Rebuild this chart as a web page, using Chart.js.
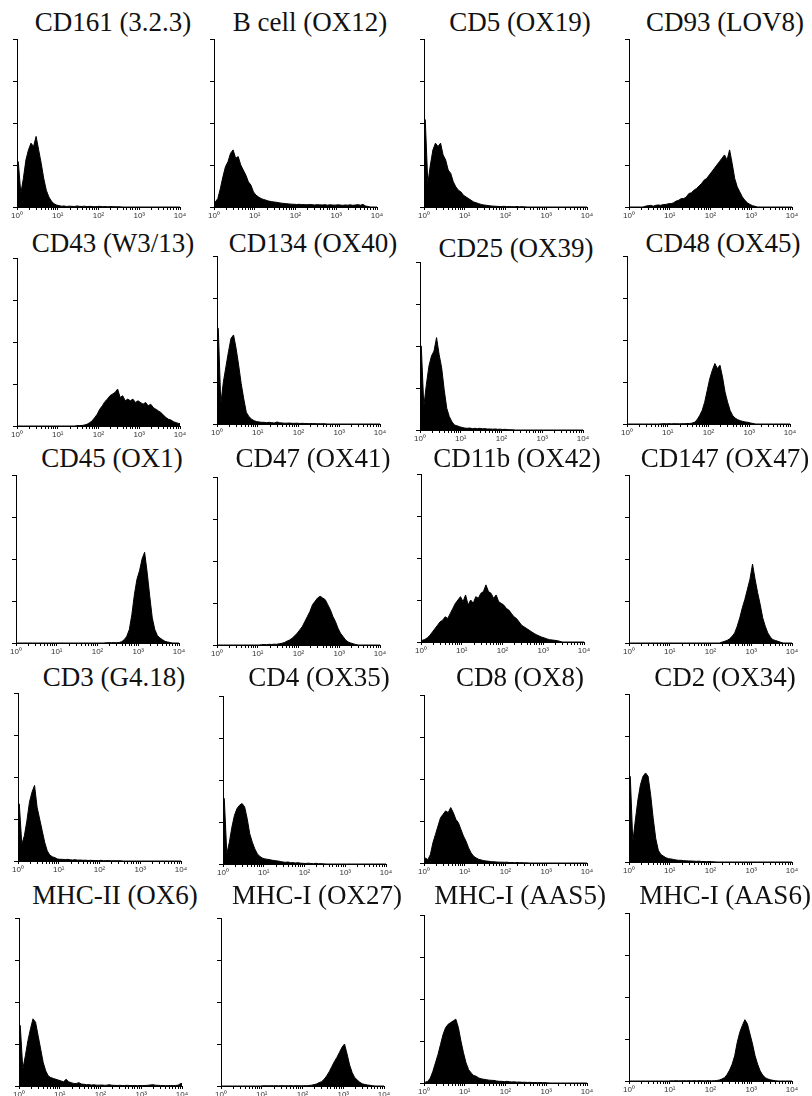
<!DOCTYPE html>
<html>
<head>
<meta charset="utf-8">
<script src="https://cdn.jsdelivr.net/npm/chart.js@4.4.0/dist/chart.umd.min.js"></script>
<style>
  body { margin: 0; background: #fff; width: 812px; height: 1096px; position: relative; overflow: hidden; }
  .title { position: absolute; width: 220px; text-align: center; white-space: nowrap;
           font: 27px "Liberation Serif", "Times New Roman", serif; line-height: 27px; color: #111; }
  canvas { position: absolute; }
</style>
</head>
<body>
<script>
// x axis: 4 decades, 16 channels per decade
const binsPerDecade = 16;
const binCount = 64;
const xTickValues = [1, 10, 100, 1000, 10000];
const xTickLabels = ['10⁰', '10¹', '10²', '10³', '10⁴'];

// event counts per channel, % of the y axis
const cd161 = [27,8,17,28,34,38,36,42,34,26,17,10,6,3.5,2,1.2,0.8,0.5,0.6,0.3,0.5,0.4,0.3,0.6,0.4,0.3,0.5,0.2,0.4,0.3,0.2,0.3,0.4,0.2,0.3,0.2,0.2,0.3,0.1,0.2,0.1];
const bCell = [3,5,11,18,24,27,32,34,29,30,25,22,19,15,13,9,7,6,5,4.5,4,3.5,3.2,3,2.8,2.5,2.3,2.1,2,1.8,1.7,1.6,1.5,1.6,1.4,1.5,1.3,1.5,1.4,1.2,1.4,1.3,1.2,1.4,1.1,1.3,1.2,1.1,1.3,1.2,1,1.2,1.1,1.3,1,1.2,1.4,1.1,1.5,0.6,0.3];
const cd5 = [52,14,25,34,38,36,38,31,28,22,20,15,12,10,9,7,6,5,4,3,2.5,2,1.5,1.2,1,0.8,0.6,0.5,0.4,0.3,0.3,0.4,0.2,0.3,0.2,0.2,0.3,0.1,0.2,0.1];
const cd93 = [0,0,0,0,0,0,0.5,0.8,1,0.5,1,1.2,1,1.5,1.5,2,2,2.5,3.5,4,5,5,6,8,8.5,10,11,12.5,14,16,17,19,21,23,25,27,29,31,28,34,26,17,12,9,6,4,2.5,1.5,0.8,0.4];

const cd43 = [0,0,0,0,0,0,0,0,0,0,0,0,0,0,0,0,0,0,0,0,0,0,0,0.2,0.3,0.3,0.6,1,2,3,5,7,10,12,14.5,16,18,19,20,22,17,18,15,16,15,16,14,15,14,13,14,12,13,11,10,9,8,6.5,5,4,3.5,2.5,2,1.5];
const cd134 = [57,12,25,34,43,51,53,45,35,24,15,7,4.5,3,2,1.5,1.2,1,1,0.8,1,0.8,0.6,1.2,0.8,0.6,0.5,0.5,0.6,0.4,0.4,0.5,0.3,0.4,0.3,0.3,0.2,0.3,0.2,0.2,0.1,0.2,0.1];
const cd25 = [50,14,27,38,44,47,55,45,37,24,13,8,5,3,2.5,2,1.5,1.2,1,1.2,0.8,1,0.8,1,0.7,0.8,0.6,0.6,0.5,0.6,0.4,0.5,0.3,0.4,0.2,0.2,0.1];
const cd48 = [0,0,0,0,0,0,0,0,0,0,0,0,0,0.1,0.2,0.1,0.2,0.1,0.2,0.2,0.1,0.2,0.2,0.3,0.3,0.5,1,2.5,5,8,13,20,27,32,36,33,35,28,19,13,8,5,3.5,2.5,2,1.5,1.2,1,0.6,0.3];

const cd45 = [0,0,0,0,0,0,0,0,0,0,0,0,0,0,0,0,0,0,0,0,0,0,0,0,0,0,0,0,0,0,0,0,0,0,0,0.2,0.2,0.2,0.2,0.2,0.3,0.8,2,4,8,17,29,38,43,50,54,42,28,15,8,4.5,3,2,1,0.6,0.3];
const cd47 = [0,0,0,0,0,0,0,0,0,0,0,0,0,0,0,0,0,0.2,0.3,0.2,0.4,0.3,0.5,0.4,0.8,1,1.5,2.3,3,4,5.5,7,9,11,14,17,20,24,26,28,29,28,27,24,21,17,14,10,7,5,3,1.8,1.2,0.7,0.3];
const cd11b = [1,1.5,2.5,4,6,8,10,12,13,15,14,17,20,23,25,27,24,28,22,25,23,27,26,29,30,34,30,29,26,28,24,23,22,20,19,17,15,14,12,10,9,8,7,6,5,4.2,3.5,2.8,2.4,1.8,1.4,1.2,1,0.8,0.4];
const cd147 = [0,0,0,0,0,0,0,0,0,0,0,0,0,0,0,0,0,0,0,0,0,0,0,0,0,0,0,0,0,0,0,0,0,0,0,0,0.5,1,1.5,2.5,4,6,10,15,21,26,32,38,47,38,30,23,15,10,6,3.5,2,1.5,1,0.5];

const cd3 = [34,10,15,24,35,41,45,32,25,18,11,6,3.5,2.5,2,1.2,1,1,0.8,1,0.7,0.6,0.8,0.5,0.6,0.4,0.5,0.3,0.4,0.3,0.3,0.2,0.4,0.2,0.2,0.3,0.1,0.2,0.1,0.2,0.1];
const cd4 = [39,6,13,22,29,33,35,36,34,27,18,13,9,6,4.5,3.5,3,2.8,2.5,2.2,2,1.8,1.5,1.2,1,1.2,0.8,0.8,0.6,0.8,0.5,0.4,0.3,0.5,0.3,0.2,0.4,0.2,0.2,0.1];
const cd8 = [3,2,5,12,17,22,27,29,31,30,33,30,26,24,20,16,13,9,6,4,3,2.2,1.8,1.4,1.2,1,0.8,0.7,0.6,0.5,0.5,0.4,0.5,0.3,0.3,0.2,0.3,0.2,0.2,0.1,0.1];
const cd2 = [51,12,25,37,46,51,53,51,40,26,14,7,4.5,3.5,2.5,2,1.8,1.5,1.2,1,1,0.8,0.7,0.6,0.6,0.5,0.4,0.5,0.3,0.3,0.2,0.3,0.2,0.1];

const mhc2Ox6 = [36,10,18,27,34,40,38,30,22,14,9,6,5,4.5,4,3.5,3,2.5,4,2.5,2,1.5,1.5,2,1.2,1,0.8,0.8,0.6,0.7,0.5,0.5,0.6,0.4,0.5,0.8,0.4,0.4,0.3,0.4,0.3,0.3,0.4,0.3,0.3,0.3,0.2,0.3,0.3,0.3,0.4,0.6,0.8,0.5,0.4,0.3,0.3,0.2,0.2,0.3,0.2,0.3,0.5,1.5];
const mhc1Ox27 = [0,0,0,0,0,0,0,0,0,0,0,0,0,0,0,0,0.1,0.2,0.1,0.2,0.1,0.2,0.1,0.2,0.2,0.1,0.2,0.2,0.1,0.2,0.2,0.1,0.2,0.2,0.3,0.5,0.8,1.2,2,2.6,4,6,8.5,11.5,14.5,17,20,23,25,19,12.5,8,5,3.6,2.2,1.3,0.9,0.6,0.4,0.2];
const mhc1Aas5 = [0.5,1,3,7,12,17,23,29,33,35,36,37,38,33,25,18,12,8,6,4.5,4,3,2.5,2.2,2,1.7,1.6,1.5,1.2,1,1,0.8,1,0.8,0.6,0.7,0.5,0.6,0.4,0.5,0.3,0.4,0.3,0.3,0.2,0.3,0.2,0.2,0.1];
const mhc1Aas6 = [0,0,0,0,0,0,0,0,0,0,0,0,0,0,0,0,0.1,0.1,0.2,0.1,0.1,0.2,0.1,0.2,0.1,0.2,0.1,0.2,0.2,0.1,0.2,0.2,0.1,0.2,0.3,0.6,1.2,2,3.8,6.5,10,15,23,29,33,36.5,34,28,22,15,10,6,3.5,2,1.2,0.7,0.4,0.2];

const titles = [
  ['CD161 (3.2.3)', 'B cell (OX12)', 'CD5 (OX19)', 'CD93 (LOV8)'],
  ['CD43 (W3/13)', 'CD134 (OX40)', 'CD25 (OX39)', 'CD48 (OX45)'],
  ['CD45 (OX1)', 'CD47 (OX41)', 'CD11b (OX42)', 'CD147 (OX47)'],
  ['CD3 (G4.18)', 'CD4 (OX35)', 'CD8 (OX8)', 'CD2 (OX34)'],
  ['MHC-II (OX6)', 'MHC-I (OX27)', 'MHC-I (AAS5)', 'MHC-I (AAS6)'],
];
const counts = [
  [cd161, bCell, cd5, cd93],
  [cd43, cd134, cd25, cd48],
  [cd45, cd47, cd11b, cd147],
  [cd3, cd4, cd8, cd2],
  [mhc2Ox6, mhc1Ox27, mhc1Aas5, mhc1Aas6],
];

// page layout: y-axis x position, x-axis y position, title baseline
const axisLeft = [
  [17, 214, 424, 629],
  [17, 217, 420, 627],
  [16, 217, 421, 629],
  [18, 223, 424, 629],
  [19, 221, 424, 629],
];
const axisBottom = [
  [207, 207, 207, 207],
  [426, 424, 430, 424],
  [643, 645, 642, 643],
  [861, 864, 863, 862],
  [1086, 1086, 1083, 1081],
];
const titleBase = [
  [32, 32, 32, 32],
  [253, 253, 258, 253],
  [468, 468, 468, 468],
  [687, 687, 687, 687],
  [905, 905, 905, 905],
];
const plotW = 163, plotH = 168;

const minorTicks = [];
for (let k = 0; k < 4; k++) for (let m = 1; m < 10; m++) minorTicks.push(m * Math.pow(10, k));
minorTicks.push(10000);

function histogram(canvas, values) {
  // first channel starts right on the axis, the rest sit at channel centres
  const pts = [{ x: 1, y: values[0] || 0 }];
  for (let i = 0; i < binCount; i++) {
    pts.push({ x: Math.pow(10, (i + 0.5) / binsPerDecade), y: values[i] || 0 });
  }
  pts.push({ x: 10000, y: values[binCount - 1] || 0 });

  return new Chart(canvas, {
    type: 'line',
    data: {
      datasets: [{
        data: pts,
        fill: 'origin',
        tension: 0,
        backgroundColor: '#000',
        borderColor: '#000',
        borderWidth: 1,
        pointRadius: 0,
      }],
    },
    options: {
      responsive: false,
      animation: false,
      events: [],
      layout: { padding: { left: 8, right: 10, top: 2, bottom: 0 } },
      plugins: { legend: { display: false }, tooltip: { enabled: false } },
      scales: {
        x: {
          type: 'logarithmic',
          min: 1,
          max: 10000,
          afterBuildTicks: s => { s.ticks = minorTicks.map(v => ({ value: v })); },
          afterFit: s => { s.height = 15; },
          grid: { drawOnChartArea: false, tickLength: 3, color: '#000' },
          border: { color: '#000', width: 1 },
          ticks: {
            autoSkip: false,
            maxRotation: 0,
            padding: 1,
            color: '#333',
            font: { size: 8, family: '"Liberation Sans", Arial, sans-serif' },
            callback: v => {
              const k = xTickValues.indexOf(v);
              return k < 0 ? '' : xTickLabels[k];
            },
          },
        },
        y: {
          min: 0,
          max: 100,
          ticks: { display: false, stepSize: 25 },
          grid: { drawOnChartArea: false, tickLength: 4, color: '#000' },
          border: { color: '#000', width: 1 },
        },
      },
    },
  });
}

for (let r = 0; r < 5; r++) {
  for (let c = 0; c < 4; c++) {
    const t = document.createElement('div');
    t.className = 'title';
    t.textContent = titles[r][c];
    t.style.left = (axisLeft[r][c] + 96 - 110) + 'px';
    t.style.top = (titleBase[r][c] - 23) + 'px';
    document.body.appendChild(t);

    const cv = document.createElement('canvas');
    cv.width = 8 + 4 + plotW + 10;
    cv.height = 2 + plotH + 15;
    document.body.appendChild(cv);
    const chart = histogram(cv, counts[r][c]);

    // nudge size so the plot box is exactly plotW x plotH
    let a = chart.chartArea;
    const dw = plotW - (a.right - a.left), dh = plotH - (a.bottom - a.top);
    if (dw || dh) {
      chart.resize(cv.width + dw, cv.height + dh);
      a = chart.chartArea;
    }
    cv.style.left = (axisLeft[r][c] - a.left) + 'px';
    cv.style.top = (axisBottom[r][c] - a.bottom) + 'px';
  }
}
</script>
</body>
</html>
